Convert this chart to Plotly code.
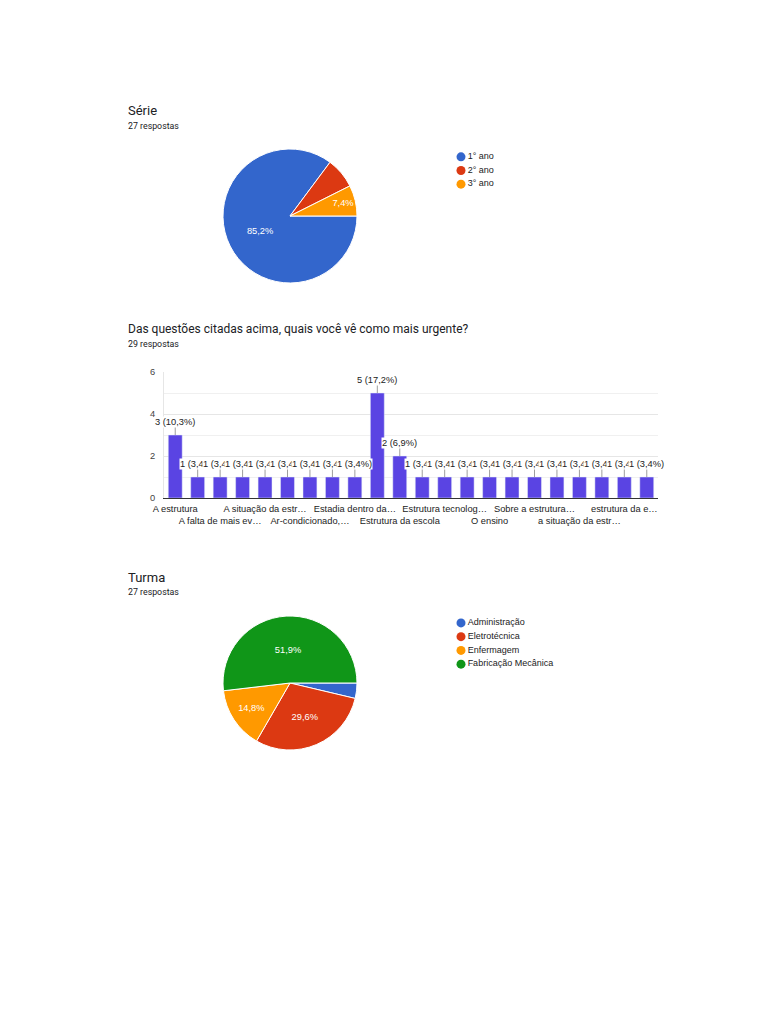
import plotly.graph_objects as go

W, H = 768, 1024
OFF = 8  # margem do <body> da página

# --- dados ---
serie_labels = ["1° ano", "2° ano", "3° ano"]
serie_valores = [23, 2, 2]
serie_mostrar = [True, False, True]

urgente_categorias = [
    "A estrutura", "A estrutura da escola", "A falta de mais ev…", "A limpeza",
    "A situação da estr…", "A situação dos banheiros", "Ar-condicionado,…", "Banheiros",
    "Estadia dentro da…", "Estrutura", "Estrutura da escola", "Estrutura física",
    "Estrutura tecnolog…", "Infraestrutura", "O ensino", "Os banheiros",
    "Sobre a estrutura…", "Todas", "a situação da estr…", "estrutura",
    "estrutura da e…", "limpeza",
]
urgente_valores = [3, 1, 1, 1, 1, 1, 1, 1, 1, 5, 2, 1, 1, 1, 1, 1, 1, 1, 1, 1, 1, 1]
urgente_yticks = [0, 2, 4, 6]

turma_labels = ["Administração", "Eletrotécnica", "Enfermagem", "Fabricação Mecânica"]
turma_valores = [1, 8, 4, 14]
turma_mostrar = [False, True, True, True]

cores = ["#3366cc", "#dc3912", "#ff9900", "#109618"]
barra_cor = "#5a44e3"

TITULO = "Roboto"
TEXTO = "Arial, Liberation Sans, sans-serif"


def px(x):
    return (x - OFF) / W


def py(y):
    return 1 - (y - OFF) / H


fig = go.Figure()

# pizza "Série"
fig.add_trace(go.Pie(
    labels=serie_labels, values=serie_valores, sort=False,
    direction="clockwise", rotation=90,
    marker=dict(colors=cores[:3], line=dict(color="white", width=1)),
    texttemplate=["%{percent:.1%}" if m else "" for m in serie_mostrar],
    textposition="inside", insidetextorientation="horizontal",
    textfont=dict(family=TEXTO, size=9.3, color="white"),
    domain=dict(x=[px(223), px(357)], y=[py(283), py(149)]),
    showlegend=False, hoverinfo="label+value",
))

# pizza "Turma"
fig.add_trace(go.Pie(
    labels=turma_labels, values=turma_valores, sort=False,
    direction="clockwise", rotation=90,
    marker=dict(colors=cores, line=dict(color="white", width=1)),
    texttemplate=["%{percent:.1%}" if m else "" for m in turma_mostrar],
    textposition="inside", insidetextorientation="horizontal",
    textfont=dict(family=TEXTO, size=9.3, color="white"),
    domain=dict(x=[px(223), px(357)], y=[py(750), py(616)]),
    showlegend=False, hoverinfo="label+value",
))

# barras
fig.add_trace(go.Bar(
    x=urgente_categorias, y=urgente_valores,
    marker=dict(color=barra_cor), showlegend=False,
))

# legendas (pontos + texto)
fig.add_trace(go.Scatter(
    x=[0] * len(serie_labels), y=list(range(len(serie_labels))),
    mode="markers+text", text=serie_labels, textposition="middle right",
    marker=dict(color=cores[:3], size=9), cliponaxis=False,
    textfont=dict(family=TEXTO, size=9, color="#222222"),
    xaxis="x2", yaxis="y2", showlegend=False, hoverinfo="skip",
))
fig.add_trace(go.Scatter(
    x=[0] * len(turma_labels), y=list(range(len(turma_labels))),
    mode="markers+text", text=turma_labels, textposition="middle right",
    marker=dict(color=cores, size=9), cliponaxis=False,
    textfont=dict(family=TEXTO, size=9, color="#222222"),
    xaxis="x3", yaxis="y3", showlegend=False, hoverinfo="skip",
))

total = sum(urgente_valores)
anotacoes = []
for cat, v in zip(urgente_categorias, urgente_valores):
    anotacoes.append(dict(
        x=cat, y=v, xref="x", yref="y",
        text=f"{v} ({v / total * 100:.1f}%)".replace(".", ","),
        showarrow=True, arrowhead=0, arrowwidth=1, arrowcolor="#9e9e9e",
        ax=0, ay=-13, bgcolor="white", borderpad=0,
        font=dict(family=TEXTO, size=9.3, color="#222222"),
    ))

titulos = [
    ("Série", 110, 13), ("27 respostas", 126, 8.8),
    ("Das questões citadas acima, quais você vê como mais urgente?", 329, 12),
    ("29 respostas", 344, 8.8),
    ("Turma", 577, 13), ("27 respostas", 592, 8.8),
]
for txt, y, s in titulos:
    anotacoes.append(dict(
        x=px(126), y=py(y), xref="paper", yref="paper", text=txt,
        showarrow=False, xanchor="left", yanchor="middle",
        font=dict(family=TITULO, size=s, color="#202124"),
    ))

ticks_x = urgente_categorias[::2]
ticktext_x = [t if i % 2 == 0 else "<br>" + t for i, t in enumerate(ticks_x)]

fig.update_layout(
    width=W, height=H, margin=dict(l=0, r=0, t=0, b=0),
    paper_bgcolor="white", plot_bgcolor="white",
    separators=",.", bargap=0.38,
    annotations=anotacoes,
    xaxis=dict(
        domain=[px(164), px(658)], type="category",
        range=[-0.5, len(urgente_categorias) - 0.5],
        tickmode="array", tickvals=ticks_x, ticktext=ticktext_x,
        tickfont=dict(family=TEXTO, size=9.3, color="#222222"),
        showline=True, linecolor="#333333", linewidth=1,
        showgrid=False, ticks="", tickangle=0, automargin=False,
        ticklabelstandoff=2,
    ),
    yaxis=dict(
        domain=[py(498), py(372)], range=[0, 6],
        tickmode="array", tickvals=urgente_yticks,
        tickfont=dict(family=TEXTO, size=9.3, color="#444444"),
        showgrid=True, gridcolor="#e6e6e6", zeroline=False,
        minor=dict(dtick=1, showgrid=True, gridcolor="#f0f0f0"),
        showline=True, linecolor="#e6e6e6", ticks="",
        ticklabelstandoff=6, automargin=False,
    ),
    xaxis2=dict(domain=[px(455), px(605)], range=[-6, 144], visible=False, anchor="y2"),
    yaxis2=dict(domain=[py(191), py(150)], range=[2.5, -0.5], visible=False, anchor="x2"),
    xaxis3=dict(domain=[px(455), px(605)], range=[-6, 144], visible=False, anchor="y3"),
    yaxis3=dict(domain=[py(671), py(616)], range=[3.5, -0.5], visible=False, anchor="x3"),
)

fig.write_html("out.html")
